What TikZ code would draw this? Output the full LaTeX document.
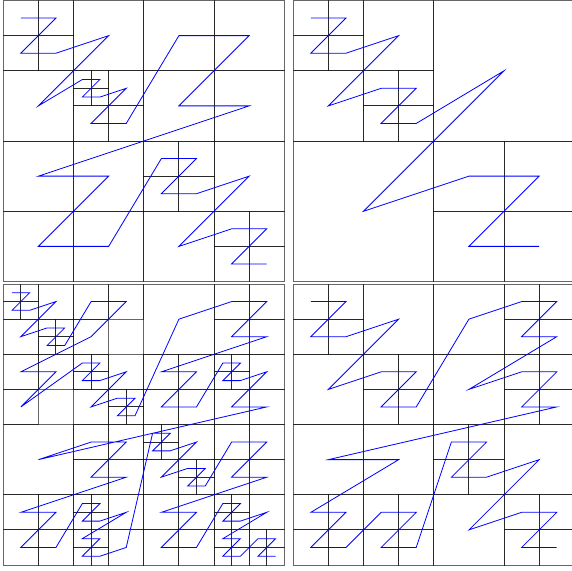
\documentclass[tikz,border=0pt]{standalone}
\usepackage{xcolor}
\usepackage{tikz}

% one quadtree panel: prefix, shift, leaves (x/y/size) in Z-order
\newcommand{\quadpanel}[3]{%
  \begin{scope}[shift={#2}]
    \foreach \ux/\uy/\us [count=\i] in {#3} {
      \draw[cell] (\ux,\uy) rectangle ++(\us,\us);
      \coordinate (#1-\i) at (\ux+\us/2,\uy+\us/2);
      \xdef\nleaves{\i}
    }
    \draw[zcurve] (#1-1) \foreach \i in {2,...,\nleaves} {-- (#1-\i)};
  \end{scope}
}

\begin{document}
\begin{tikzpicture}[
    x=35.125pt, y=-35.125pt,
    cell/.style={draw=black, draw opacity=0.6, line width=1pt},
    zcurve/.style={draw=blue, line width=0.8pt, line join=miter}
]
\useasboundingbox (0pt,0pt) rectangle (572pt,-570pt);

% Top left
\quadpanel{a}{(3.3pt,-0.5pt)}{
  0/0/1, 1/0/1, 0/1/1, 1/1/1, 2/0/2, 0/2/2,
  2/2/.5, 2.5/2/.5, 2/2.5/.5, 2.5/2.5/.5, 3/2/1, 2/3/1, 3/3/1,
  4/0/2, 6/0/2, 4/2/2, 6/2/2,
  0/4/2, 2/4/2, 0/6/2, 2/6/2,
  4/4/1, 5/4/1, 4/5/1, 5/5/1, 6/4/2, 4/6/2, 6/6/1, 7/6/1, 6/7/1, 7/7/1}

% Top right
\quadpanel{b}{(293.3pt,-0.5pt)}{
  0/0/1, 1/0/1, 0/1/1, 1/1/1, 2/0/2, 0/2/2,
  2/2/1, 3/2/1, 2/3/1, 3/3/1,
  4/0/4, 0/4/4,
  4/4/2, 6/4/2, 4/6/2, 6/6/2}

% Bottom left
\quadpanel{c}{(3.3pt,-284pt)}{
  0/0/.5, .5/0/.5, 0/.5/.5, .5/.5/.5, 1/0/1, 0/1/1,
  1/1/.5, 1.5/1/.5, 1/1.5/.5, 1.5/1.5/.5,
  2/0/1, 3/0/1, 2/1/1,
  0/2/1, 1/2/1, 0/3/1,
  2/2/.5, 2.5/2/.5, 2/2.5/.5, 2.5/2.5/.5, 3/2/1, 2/3/1,
  3/3/.5, 3.5/3/.5, 3/3.5/.5, 3.5/3.5/.5,
  4/0/2, 6/0/1, 7/0/1, 6/1/1, 7/1/1,
  4/2/1, 5/2/1, 4/3/1, 5/3/1,
  6/2/.5, 6.5/2/.5, 6/2.5/.5, 6.5/2.5/.5, 7/2/1, 6/3/1, 7/3/1,
  0/4/2, 2/4/1, 3/4/1, 2/5/1, 3/5/1,
  0/6/1, 1/6/1, 0/7/1, 1/7/1,
  2/6/.5, 2.5/6/.5, 2/6.5/.5, 2.5/6.5/.5, 3/6/1,
  2/7/.5, 2.5/7/.5, 2/7.5/.5, 2.5/7.5/.5, 3/7/1,
  4/4/.5, 4.5/4/.5, 4/4.5/.5, 4.5/4.5/.5, 5/4/1, 4/5/1,
  5/5/.5, 5.5/5/.5, 5/5.5/.5, 5.5/5.5/.5,
  6/4/1, 7/4/1, 6/5/1, 7/5/1,
  4/6/1, 5/6/1, 4/7/1, 5/7/1,
  6/6/.5, 6.5/6/.5, 6/6.5/.5, 6.5/6.5/.5, 7/6/1,
  6/7/.5, 6.5/7/.5, 6/7.5/.5, 6.5/7.5/.5,
  7/7/.5, 7.5/7/.5, 7/7.5/.5, 7.5/7.5/.5}

% Bottom right
\quadpanel{d}{(293.3pt,-284pt)}{
  0/0/1, 1/0/1, 0/1/1, 1/1/1, 2/0/2, 0/2/2,
  2/2/1, 3/2/1, 2/3/1, 3/3/1,
  4/0/2, 6/0/1, 7/0/1, 6/1/1, 7/1/1,
  4/2/2, 6/2/1, 7/2/1, 6/3/1, 7/3/1,
  0/4/2, 2/4/2,
  0/6/1, 1/6/1, 0/7/1, 1/7/1,
  2/6/1, 3/6/1, 2/7/1, 3/7/1,
  4/4/1, 5/4/1, 4/5/1, 5/5/1, 6/4/2, 4/6/2,
  6/6/1, 7/6/1, 6/7/1, 7/7/1}

\end{tikzpicture}
\end{document}
